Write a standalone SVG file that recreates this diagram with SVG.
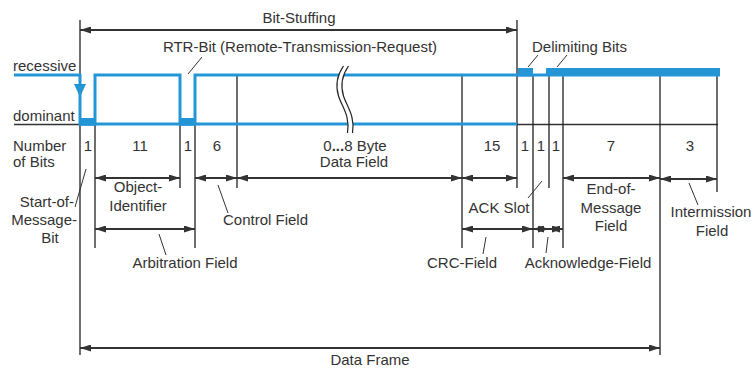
<svg xmlns="http://www.w3.org/2000/svg" width="755" height="369" viewBox="0 0 755 369">
<style>
text{font-family:"Liberation Sans",Arial,sans-serif;font-size:15px;fill:#333}
.m{text-anchor:middle}
.e{text-anchor:end}
.sig{fill:none;stroke:#2596d5;stroke-width:3}
.blk{fill:#2596d5}
.v{stroke:#222;stroke-width:1.3;fill:none}
.h{stroke:#333;stroke-width:1.5;fill:none}
.dim{stroke:#333;stroke-width:2;fill:none;marker-start:url(#ah);marker-end:url(#ah)}
.ld{stroke:#333;stroke-width:1;fill:none}
</style>
<defs>
<marker id="ah" viewBox="0 0 11 7" refX="11" refY="3.5" markerWidth="11" markerHeight="7" markerUnits="userSpaceOnUse" orient="auto-start-reverse">
<path d="M0,0 L11,3.5 L0,7 z" fill="#333"/>
</marker>
</defs>
<g id="grid">
<path class="h" d="M14,124.5 H80 M517,124.5 H718"/>
<path class="v" d="M80,20 V355 M95,124 V248 M180,124 V188 M195,124 V248 M237,75 V188 M462,75 V248 M517,20 V188 M533,76 V248 M549,76 V188 M563,76 V248 M660,76 V355 M717,76 V192"/>
</g>
<g id="signal">
<path class="sig" d="M80,124 H517"/>
<path class="sig" d="M14,75 H80 V124 H95 V75 H180 V124 H195 V75 H546"/>
<path d="M74,84 L86,84 L80,97 z" class="blk"/>
<rect class="blk" x="80" y="118" width="15" height="7.5"/>
<rect class="blk" x="180" y="118" width="15" height="7.5"/>
<rect class="blk" x="518" y="68" width="15" height="8.5"/>
<rect class="blk" x="546" y="68" width="174" height="8.5"/>
<path d="M346,64 C339,76 338,86 341,96 C344,106 353,116 350,135" stroke="#fff" stroke-width="5" fill="none"/>
<path d="M343.5,66 C336.5,76 335.5,86 338.5,96 C341.5,106 350.5,116 347.5,133 M348.5,66 C341.5,76 340.5,86 343.5,96 C346.5,106 355.5,116 352.5,133" stroke="#222" stroke-width="1.2" fill="none"/>
</g>
<g id="connectors">
<path class="dim" d="M80,30 H517"/>
<path class="dim" d="M95,178 H180"/>
<path class="dim" d="M195,178 H237"/>
<path class="dim" d="M237,178 H462"/>
<path class="dim" d="M462,178 H517"/>
<path class="dim" d="M563,178 H660"/>
<path class="dim" d="M660,179 H717"/>
<path class="dim" d="M95,229 H195"/>
<path class="dim" d="M462,229 H533"/>
<path class="dim" d="M533,229 H549"/>
<path class="dim" d="M549,229 H563"/>
<path class="dim" d="M80,348 H660"/>
<path class="ld" d="M202,57 L188,74 M538,55 L528,67 M567,55 L557,67 M75,207 L86,169 M218,185 L228,213 M159,234 L166,255 M528,198 L542,181 M689,183 L698,205 M486,237 L483,254 M548,237 L546,253"/>
</g>
<g id="labels">
<text class="m" x="299" y="23">Bit-Stuffing</text>
<text class="m" x="300" y="52">RTR-Bit (Remote-Transmission-Request)</text>
<text x="532" y="52">Delimiting Bits</text>
<text x="13" y="71">recessive</text>
<text x="13" y="121">dominant</text>
<text x="13" y="151">Number</text>
<text x="13" y="167">of Bits</text>
<text class="m" x="88" y="151">1</text>
<text class="m" x="140" y="151">11</text>
<text class="m" x="188" y="151">1</text>
<text class="m" x="217" y="151">6</text>
<text class="m" x="355" y="151">0<tspan font-weight="bold">...</tspan>8 Byte</text>
<text class="m" x="354" y="167">Data Field</text>
<text class="m" x="492" y="151">15</text>
<text class="m" x="525" y="151">1</text>
<text class="m" x="541" y="151">1</text>
<text class="m" x="556" y="151">1</text>
<text class="m" x="611" y="151">7</text>
<text class="m" x="690" y="151">3</text>
<text class="m" x="138" y="192">Object-</text>
<text class="m" x="138" y="211">Identifier</text>
<text class="e" x="74" y="207">Start-of-</text>
<text class="e" x="77" y="225">Message-</text>
<text class="m" x="50" y="243">Bit</text>
<text x="223" y="225">Control Field</text>
<text class="m" x="185" y="268">Arbitration Field</text>
<text class="m" x="499" y="213">ACK Slot</text>
<text class="m" x="611" y="194">End-of-</text>
<text class="m" x="611" y="213">Message</text>
<text class="m" x="611" y="231">Field</text>
<text class="m" x="711" y="217">Intermission</text>
<text class="m" x="712" y="236">Field</text>
<text class="m" x="462" y="268">CRC-Field</text>
<text class="m" x="588" y="268">Acknowledge-Field</text>
<text class="m" x="370" y="365">Data Frame</text>
</g>
</svg>
